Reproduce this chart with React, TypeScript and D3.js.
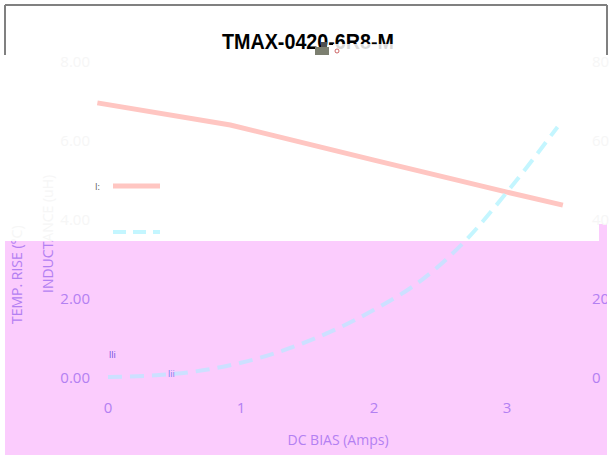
import React from "react";
import * as d3 from "d3";

const title = "TMAX-0420-6R8-M";
const xTicks = [0, 1, 2, 3];
const leftTicks = [0, 2, 4, 6, 8];
const rightTicks = [0, 20, 40, 60, 80];
const indBias = [-0.08, 0.92, 2.0, 3.0, 3.42];
const indValues = [6.94, 6.38, 5.49, 4.68, 4.35];
const tempBias = [0, 0.5, 1.0, 1.5, 2.0, 2.36, 2.67, 3.0, 3.38];
const tempValues = [0, 0.8, 3.6, 9.0, 17.0, 24.6, 33.9, 46.8, 63.3];
const xTitle = "DC BIAS  (Amps)";
const yLeftTitle = "INDUCTANCE (uH)";
const yRightTitle = "TEMP. RISE (°C)";

const W = 610, H = 459;
const SPLIT = 241;

export default function App() {
  const x = d3.scaleLinear().domain([0, 3]).range([108, 507]);
  const yL = d3.scaleLinear().domain([0, 8]).range([377, 61]);
  const yR = d3.scaleLinear().domain([0, 80]).range([377, 61]);
  const indLine = d3.line<number>().x((_, i) => x(indBias[i])).y((d) => yL(d))(indValues) || "";
  const tempLine = d3
    .line<number>()
    .x((_, i) => x(tempBias[i]))
    .y((d) => yR(d))
    .curve(d3.curveMonotoneX)(tempValues) || "";
  const font = "'Open Sans', sans-serif";

  const layer = (c: { text: string; red: string; cyan: string }, clip: string) => (
    <g clipPath={`url(#${clip})`}>
      {leftTicks.map((t) => (
        <text key={"l" + t} x={90} y={yL(t) + 6} textAnchor="end" fontFamily={font} fontSize={15} fill={c.text}>
          {d3.format(".2f")(t)}
        </text>
      ))}
      {rightTicks.map((t) => (
        <text key={"r" + t} x={592} y={yR(t) + 6} textAnchor="start" fontFamily={font} fontSize={15} fill={c.text}>
          {t}
        </text>
      ))}
      {xTicks.map((t) => (
        <text key={"x" + t} x={x(t)} y={413} textAnchor="middle" fontFamily={font} fontSize={15} fill={c.text}>
          {t}
        </text>
      ))}
      <text x={338} y={445} textAnchor="middle" fontFamily={font} fontSize={14} fill={c.text}>
        {xTitle}
      </text>
      <text transform="translate(53,293) rotate(-90)" fontFamily={font} fontSize={14} fill={c.text}>
        {yLeftTitle}
      </text>
      <text transform="translate(22,324) rotate(-90)" fontFamily={font} fontSize={14} fill={c.text}>
        {yRightTitle}
      </text>
      <path d={indLine} fill="none" stroke={c.red} strokeWidth={5} />
      <path d={tempLine} fill="none" stroke={c.cyan} strokeWidth={4} strokeDasharray="14 8" />
      <line x1={113} x2={160} y1={186} y2={186} stroke={c.red} strokeWidth={5} />
      <line x1={113} x2={160} y1={232} y2={232} stroke={c.cyan} strokeWidth={4} strokeDasharray="13 7" />
    </g>
  );

  return (
    <svg width={W} height={H} style={{ position: "absolute", left: 0, top: 0 }}>
      <defs>
        <clipPath id="topClip">
          <rect x={0} y={55} width={W} height={SPLIT - 55} />
        </clipPath>
        <clipPath id="botClip">
          <rect x={5} y={SPLIT} width={602} height={H - SPLIT - 4} />
        </clipPath>
      </defs>
      <rect x={0} y={0} width={W} height={H} fill="#ffffff" />
      <line x1={5} x2={607} y1={5} y2={5} stroke="#808080" strokeWidth={2} />
      <line x1={5} x2={5} y1={5} y2={55} stroke="#808080" strokeWidth={2} />
      <line x1={607} x2={607} y1={5} y2={55} stroke="#808080" strokeWidth={2} />
      <text x={222} y={49} textLength={172} lengthAdjust="spacingAndGlyphs" fontFamily="'Liberation Sans', Arial, sans-serif" fontWeight="bold" fontSize={22} fill="#000">
        {title}
      </text>
      <rect x={333} y={44} width={70} height={12} fill="#ffffff" opacity={0.85} />
      <rect x={315} y={47} width={14} height={8} fill="#7c7f70" />
      <rect x={321} y={42} width={6} height={5} fill="#505050" />
      <circle cx={337} cy={51} r={2} fill="none" stroke="#c04040" strokeWidth={0.8} />
      <rect x={5} y={SPLIT} width={602} height={H - SPLIT - 4} fill="#fbccfd" />
      <rect x={599} y={224} width={8} height={17} fill="#fbccfd" />
      {layer({ text: "#f6f6f6", red: "#ffc6c2", cyan: "#c4f6ff" }, "topClip")}
      {layer({ text: "#b380f2", red: "#f0b4d8", cyan: "#cce0ff" }, "botClip")}
      <text x={95} y={190} fontFamily={font} fontSize={9} fill="#555">I:</text>
      <text x={109} y={358} fontFamily={font} fontSize={9} fill="#6a50e0">lli</text>
      <text x={168} y={377} fontFamily={font} fontSize={9} fill="#7a80f0">lii</text>
    </svg>
  );
}
